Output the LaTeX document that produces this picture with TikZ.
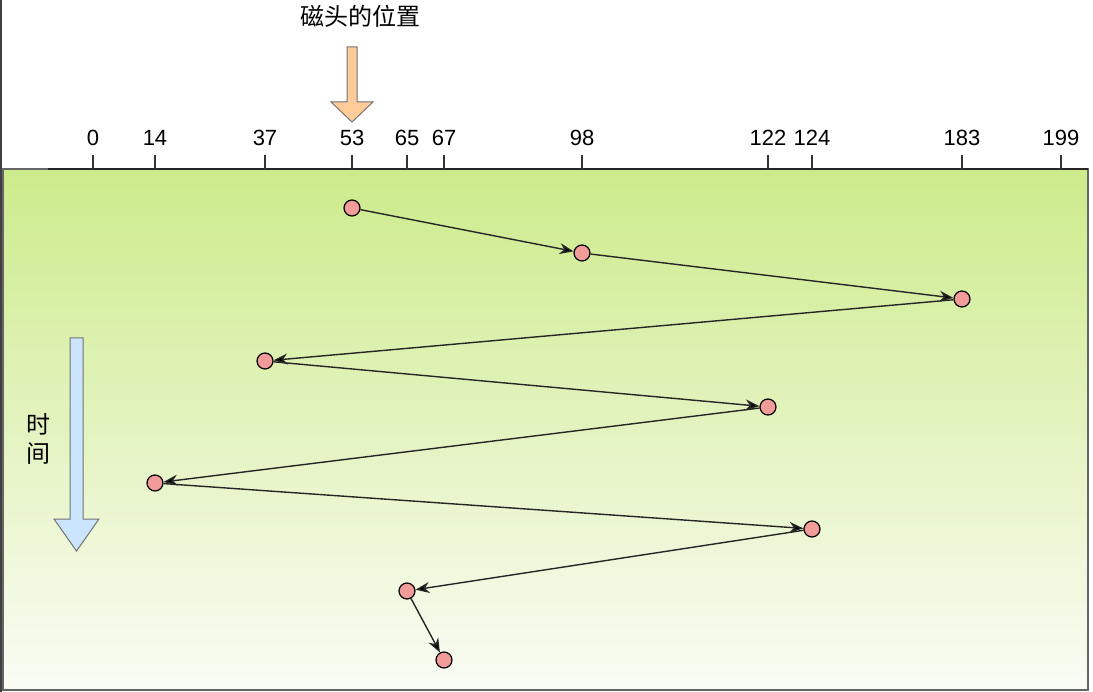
\documentclass[tikz,border=0pt]{standalone}
\usepackage{fontspec}
\setmainfont{Liberation Sans}
\newfontfamily\cjk{Noto Sans CJK SC}
\usetikzlibrary{arrows.meta}

\definecolor{panelgreen}{RGB}{205,235,139}
\definecolor{panelwhite}{RGB}{250,252,245}
\definecolor{headred}{RGB}{241,156,153}
\definecolor{headorange}{RGB}{255,204,153}
\definecolor{timeblue}{RGB}{204,229,255}

\begin{document}
\begin{tikzpicture}[x=1pt,y=-1pt,font=\fontsize{22}{25}\selectfont,
		track/.style={circle,draw=black,line width=1.2pt,fill=headred,minimum size=16pt,inner sep=0pt},
		tickmark/.style={draw=black!80,line width=1.3pt},
		move/.style={-{Stealth[length=14pt,width=11pt]},line width=1.4pt,draw=black!85}]
			\useasboundingbox (0,0) rectangle (1093,692);
			\draw[black!75,line width=2pt] (1,0) -- (1,692);
			\shade[top color=panelgreen,bottom color=panelwhite,draw=black!60,line width=1.5pt] (3,169) rectangle (1088,690);
			\draw[black!85,line width=1.5pt] (48,169) -- (1088,169);

			% cylinder scale
			\foreach \cyl/\px in {0/93,14/155,37/265,53/352,65/407,67/444,98/582,122/768,124/812,183/962,199/1061} {
				\draw[tickmark] (\px,155) -- (\px,169);
				\node (c\cyl) at (\px,138) {\cyl};
			}

			\node[font=\cjk\fontsize{24}{27}\selectfont] (title) at (360,16) {磁头的位置};
			\draw[black!55,line width=1pt,fill=headorange] (347,47) -- (357,47) -- (357,102) -- (373,102) -- (352,122) -- (331,102) -- (347,102) -- cycle;

			\draw[black!55,line width=1pt,fill=timeblue] (70,338) -- (83,338) -- (83,519) -- (99,519) -- (76.5,551) -- (54,519) -- (70,519) -- cycle;
			\node[align=center,font=\cjk\fontsize{24}{29}\selectfont] (time) at (39,439) {时\\间};

			% head positions over time
			\node[track] (S1) at (352,208) {};
			\node[track] (S2) at (582,253) {};
			\node[track] (S3) at (962,299) {};
			\node[track] (S4) at (265,361) {};
			\node[track] (S5) at (768,407) {};
			\node[track] (S6) at (155,483) {};
			\node[track] (S7) at (812,529) {};
			\node[track] (S8) at (407,591) {};
			\node[track] (S9) at (444,660) {};

			\path[move] (S1) edge (S2)
						(S2) edge (S3)
						(S3) edge (S4)
						(S4) edge (S5)
						(S5) edge (S6)
						(S6) edge (S7)
						(S7) edge (S8)
						(S8) edge (S9);
		\end{tikzpicture}
\end{document}
